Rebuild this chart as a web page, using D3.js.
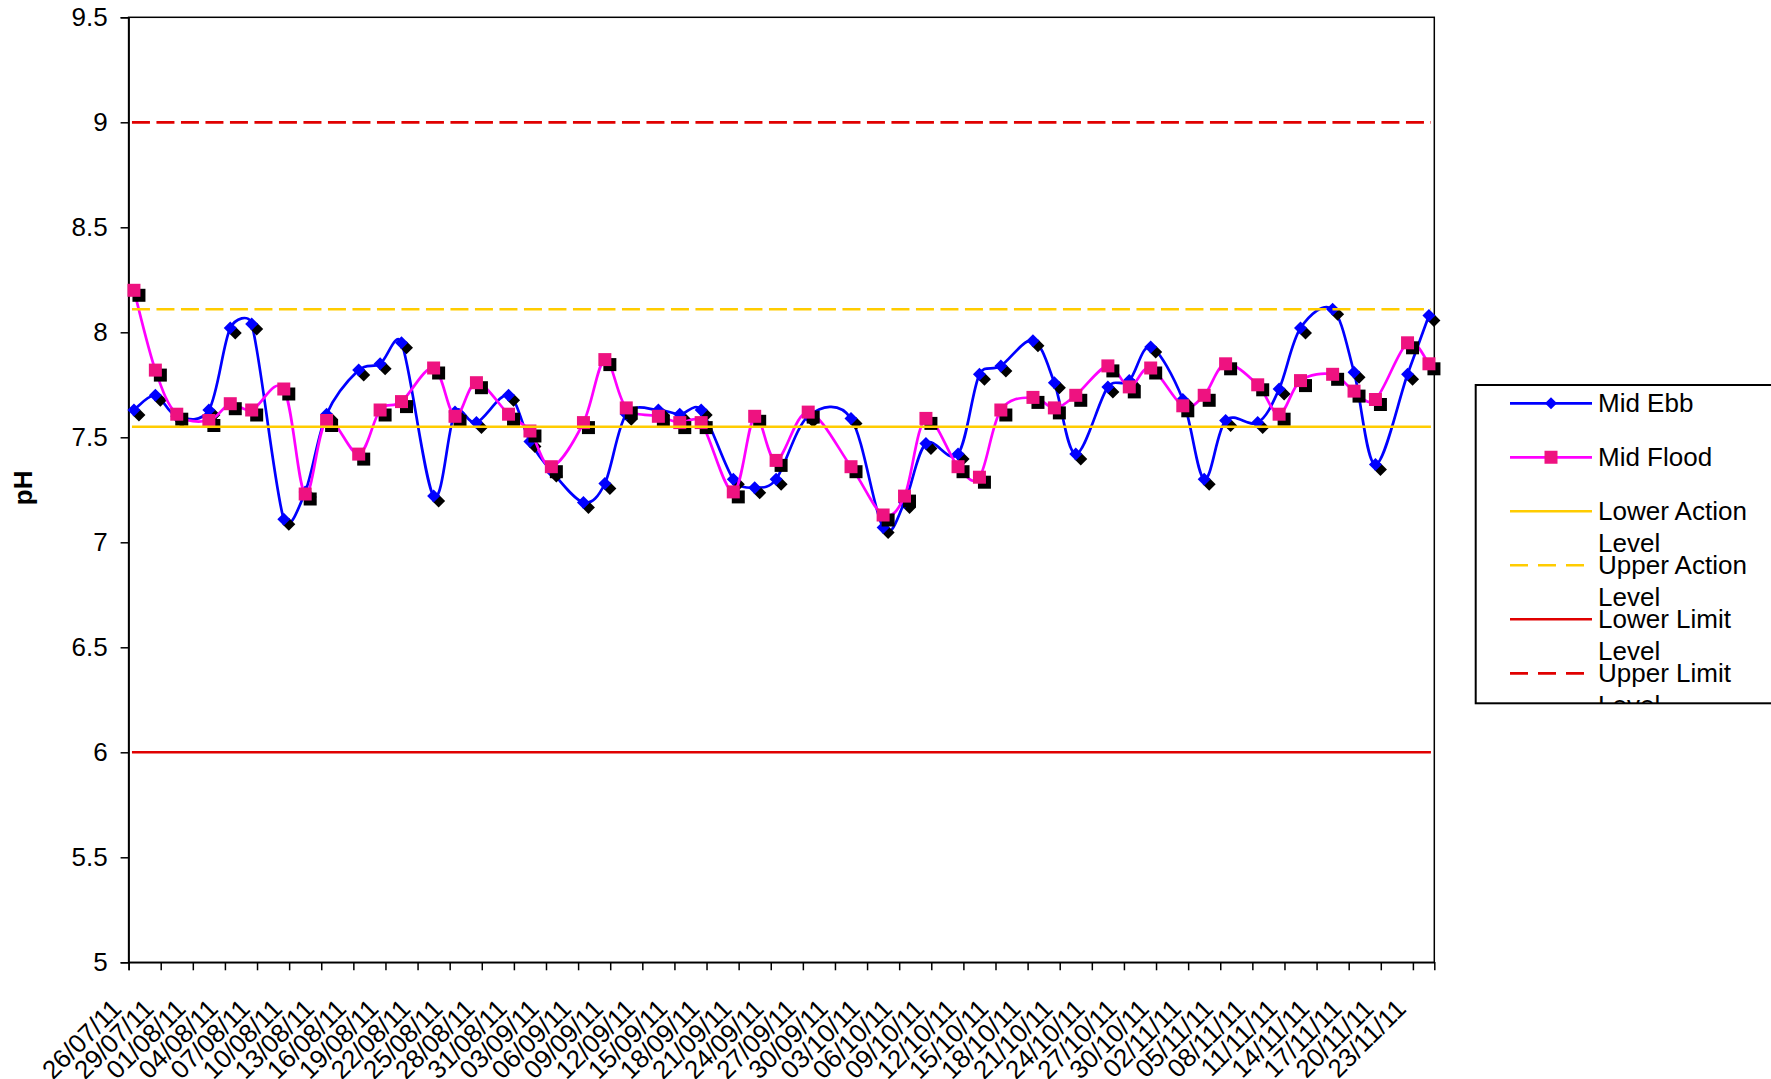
<!DOCTYPE html>
<html>
<head>
<meta charset="utf-8">
<script src="https://cdn.jsdelivr.net/npm/d3@7"></script>
<style>
  html, body { margin: 0; padding: 0; background: #ffffff; }
  svg { display: block; }
  text { font-family: "Liberation Sans", Arial, sans-serif; fill: #000; }
</style>
</head>
<body>
<svg id="chart" width="1771" height="1079"></svg>
<script>
// ---------------- data ----------------
const sampleDates = [
  "26/07/11","28/07/11","30/07/11","02/08/11","04/08/11","06/08/11","09/08/11","11/08/11",
  "13/08/11","16/08/11","18/08/11","20/08/11","23/08/11","25/08/11","27/08/11","30/08/11",
  "01/09/11","03/09/11","06/09/11","08/09/11","10/09/11","13/09/11","15/09/11","17/09/11",
  "20/09/11","22/09/11","24/09/11","27/09/11","01/10/11","04/10/11","06/10/11","08/10/11",
  "11/10/11","13/10/11","15/10/11","18/10/11","20/10/11","22/10/11","25/10/11","27/10/11",
  "29/10/11","01/11/11","03/11/11","05/11/11","08/11/11","10/11/11","12/11/11","15/11/11",
  "17/11/11","19/11/11","22/11/11","24/11/11"
];
const midEbb = [
  7.63, 7.70, 7.60, 7.63, 8.02, 8.04, 7.11, 7.24,
  7.61, 7.82, 7.85, 7.95, 7.22, 7.62, 7.57, 7.70,
  7.48, 7.34, 7.19, 7.28, 7.61, 7.63, 7.61, 7.63,
  7.30, 7.26, 7.30, 7.60, 7.59, 7.07, 7.19, 7.47,
  7.42, 7.80, 7.84, 7.96, 7.76, 7.42, 7.74, 7.77,
  7.93, 7.68, 7.30, 7.58, 7.57, 7.73, 8.02, 8.11,
  7.81, 7.37, 7.80, 8.08
];
const midFlood = [
  8.20, 7.82, 7.61, 7.58, 7.66, 7.63, 7.73, 7.23,
  7.58, 7.42, 7.63, 7.67, 7.83, 7.60, 7.76, 7.61,
  7.53, 7.36, 7.57, 7.87, 7.64, 7.60, 7.57, 7.57,
  7.24, 7.60, 7.39, 7.62, 7.36, 7.13, 7.22, 7.59,
  7.36, 7.31, 7.63, 7.69, 7.64, 7.70, 7.84, 7.74,
  7.83, 7.65, 7.70, 7.85, 7.75, 7.61, 7.77, 7.80,
  7.72, 7.68, 7.95, 7.85
];
const seriesNames = ["Mid Ebb", "Mid Flood"];
const levelNames = ["Lower Action Level", "Upper Action Level", "Lower Limit Level", "Upper Limit Level"];
const levelValues = [7.55, 8.11, 6, 9];
const yTickValues = [5, 5.5, 6, 6.5, 7, 7.5, 8, 8.5, 9, 9.5];
const yAxisTitle = "pH";

// ---------------- styles ----------------
const FONT = '"Liberation Sans", Arial, sans-serif';
const seriesStyles = [
  { line: "#0000FF", fill: "#0000FF", marker: "diamond" },
  { line: "#FF00FF", fill: "#EE1280", marker: "square" }
];
const levelStyles = [
  { color: "#FFCC00", dash: null, width: 2.5 },
  { color: "#FFCC00", dash: "18,6.5", width: 2.5 },
  { color: "#E00000", dash: null, width: 2.5 },
  { color: "#E00000", dash: "18,6.5", width: 2.8 }
];

// ---------------- layout ----------------
const plot = { left: 128.6, right: 1434.3, top: 17.3, bottom: 962.3 };
const parse = d3.utcParse("%d/%m/%y");
const fmt = d3.utcFormat("%d/%m/%y");
const dates = sampleDates.map(parse);
const firstDate = dates[0];
const lastDate = dates[dates.length - 1];

const x = d3.scaleUtc()
  .domain([firstDate, d3.utcDay.offset(lastDate, 1)])
  .range([plot.left, plot.right]);
const y = d3.scaleLinear().domain([5, 9.5]).range([plot.bottom, plot.top]);
const mid = d => d3.utcHour.offset(d, 12);

// Excel-style smoothed line: cubic Bezier with control arms of 1/6 of the
// neighbour chord, limited to half the segment length.
function ExcelSmooth(context) { this._context = context; }
ExcelSmooth.prototype = {
  areaStart() { this._line = 0; },
  areaEnd() { this._line = NaN; },
  lineStart() { this._pts = []; },
  point(px, py) { this._pts.push([+px, +py]); },
  lineEnd() {
    const p = this._pts, c = this._context, n = p.length;
    if (!n) return;
    c.moveTo(p[0][0], p[0][1]);
    if (n === 1) return;
    const dist = (a, b) => Math.hypot(b[0] - a[0], b[1] - a[1]);
    for (let i = 0; i < n - 1; i++) {
      const P0 = p[i - 1] || p[i], P1 = p[i], P2 = p[i + 1], P3 = p[i + 2] || p[i + 1];
      const d12 = dist(P1, P2), d02 = dist(P0, P2), d13 = dist(P1, P3);
      const f1 = d02 > 0 ? Math.min(1 / 6, d12 / 2 / d02) : 0;
      const f2 = d13 > 0 ? Math.min(1 / 6, d12 / 2 / d13) : 0;
      c.bezierCurveTo(
        P1[0] + f1 * (P2[0] - P0[0]), P1[1] + f1 * (P2[1] - P0[1]),
        P2[0] - f2 * (P3[0] - P1[0]), P2[1] - f2 * (P3[1] - P1[1]),
        P2[0], P2[1]);
    }
  }
};
const curveExcel = ctx => new ExcelSmooth(ctx);

const svg = d3.select("#chart");
svg.append("rect").attr("width", 1771).attr("height", 1079).attr("fill", "#fff");

// plot border
svg.append("rect")
  .attr("x", plot.left).attr("y", plot.top)
  .attr("width", plot.right - plot.left).attr("height", plot.bottom - plot.top)
  .attr("fill", "none").attr("stroke", "#000").attr("stroke-width", 1.5);

// y axis
const yAxis = svg.append("g").attr("transform", `translate(${plot.left},0)`)
  .call(d3.axisLeft(y).tickValues(yTickValues).tickFormat(d => String(d)).tickSize(8).tickPadding(13));
yAxis.select(".domain").attr("stroke", "#000").attr("stroke-width", 1.5);
yAxis.selectAll(".tick line").attr("stroke", "#000").attr("stroke-width", 1.5);
yAxis.selectAll(".tick text")
  .style("font-family", FONT)
  .attr("font-size", 26).attr("fill", "#000");

// x axis
const xTicks = d3.utcDay.range(firstDate, lastDate, 3);
const xAxis = svg.append("g").attr("transform", `translate(0,${plot.bottom})`)
  .call(d3.axisBottom(x).tickValues(xTicks).tickFormat(fmt).tickSize(8));
xAxis.select(".domain").attr("stroke", "#000").attr("stroke-width", 1.5);
xAxis.selectAll(".tick line").attr("stroke", "#000").attr("stroke-width", 1.5);
xAxis.selectAll(".tick text")
  .style("font-family", FONT)
  .attr("font-size", 26).attr("fill", "#000")
  .attr("text-anchor", "end")
  .attr("dy", null)
  .attr("y", null)
  .attr("transform", "translate(-6,48) rotate(-45)");

// y title
svg.append("text")
  .attr("transform", `translate(32,${(plot.top + plot.bottom) / 2 - 2}) rotate(-90)`)
  .attr("text-anchor", "middle")
  .attr("font-size", 26).attr("font-weight", "bold")
  .text(yAxisTitle);

// marker shapes
function markerPath(kind, s) {
  const r = s / 2;
  if (kind === "diamond") return `M0,${-r}L${r},0L0,${r}L${-r},0Z`;
  return `M${-r},${-r}H${r}V${r}H${-r}Z`;
}
const markerSize = { diamond: 13, square: 13 };

const line = d3.line()
  .x(d => x(mid(d.date)))
  .y(d => y(d.value))
  .curve(curveExcel);

const seriesData = [midEbb, midFlood].map(vals => vals.map((v, i) => ({ date: dates[i], value: v })));

seriesData.forEach((data, si) => {
  const st = seriesStyles[si];
  const g = svg.append("g");
  g.append("path").datum(data)
    .attr("d", line).attr("fill", "none")
    .attr("stroke", st.line).attr("stroke-width", 2.7).attr("stroke-linejoin", "round");
  const p = markerPath(st.marker, markerSize[st.marker]);
  g.selectAll("path.shadow").data(data).join("path").attr("class", "shadow")
    .attr("d", p).attr("fill", "#000")
    .attr("transform", d => `translate(${x(mid(d.date)) + 5},${y(d.value) + 5})`);
  g.selectAll("path.mark").data(data).join("path").attr("class", "mark")
    .attr("d", p).attr("fill", st.fill)
    .attr("transform", d => `translate(${x(mid(d.date))},${y(d.value)})`);
});

// level lines
levelValues.forEach((v, i) => {
  const st = levelStyles[i];
  svg.append("line")
    .attr("x1", x(mid(firstDate)) - 2).attr("x2", x(mid(lastDate)) + 2)
    .attr("y1", y(v)).attr("y2", y(v))
    .attr("stroke", st.color).attr("stroke-width", st.width)
    .attr("stroke-dasharray", st.dash);
});

// ---------------- legend ----------------
const lg = { x: 1475.7, y: 385, w: 400, h: 318.3 };
const defs = svg.append("defs");
defs.append("clipPath").attr("id", "legclip")
  .append("rect").attr("x", lg.x).attr("y", lg.y).attr("width", lg.w).attr("height", lg.h);
const legend = svg.append("g");
const legendInner = legend.append("g").attr("clip-path", "url(#legclip)");
const legendItems = [
  ...seriesNames.map((n, i) => ({ name: n, color: seriesStyles[i].line, dash: null, marker: seriesStyles[i].marker, fill: seriesStyles[i].fill, width: 2.7 })),
  ...levelNames.map((n, i) => ({ name: n, color: levelStyles[i].color, dash: levelStyles[i].dash ? "18,10" : null, marker: null, width: levelStyles[i].width }))
];
legendItems.forEach((it, i) => {
  const cy = 403.3 + i * 54;
  const gi = legendInner.append("g");
  gi.append("line").attr("x1", 1510).attr("x2", 1592).attr("y1", cy).attr("y2", cy)
    .attr("stroke", it.color).attr("stroke-width", it.width).attr("stroke-dasharray", it.dash);
  if (it.marker) {
    gi.append("path").attr("d", markerPath(it.marker, it.marker === "square" ? 13 : 12))
      .attr("fill", it.fill).attr("transform", `translate(1551,${cy})`);
  }
  // long names wrap onto two lines as in the original
  const words = it.name.split(" ");
  const lines = words.length > 2 ? [words.slice(0, 2).join(" "), words.slice(2).join(" ")] : [it.name];
  const t = gi.append("text").attr("x", 1598).attr("y", cy + 9).attr("font-size", 26);
  lines.forEach((ln, k) => {
    t.append("tspan").attr("x", 1598).attr("dy", k === 0 ? 0 : 31.5).text(ln);
  });
});
legend.append("rect")
  .attr("x", lg.x).attr("y", lg.y).attr("width", lg.w).attr("height", lg.h)
  .attr("fill", "none").attr("stroke", "#000").attr("stroke-width", 2);
</script>
</body>
</html>
